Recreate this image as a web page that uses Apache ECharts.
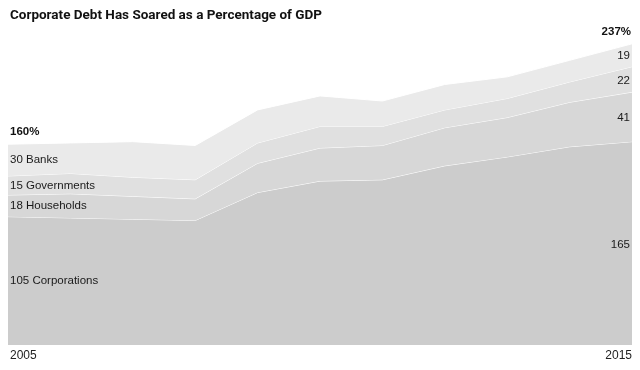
<!DOCTYPE html>
<html>
<head>
<meta charset="utf-8">
<script src="https://cdn.jsdelivr.net/npm/echarts@6/dist/echarts.min.js"></script>
<style>
  html, body { margin: 0; padding: 0; background: #fff; }
  #chart { width: 640px; height: 370px; }
</style>
</head>
<body>
<div id="chart"></div>
<script>
// debt as % of GDP
var years = ['2005','2006','2007','2008','2009','2010','2011','2012','2013','2014','2015'];
var corporations = [101, 100, 99, 98, 120, 129, 130, 141, 148, 156, 160];
var households   = [17, 19, 18, 17, 23, 26, 27, 30, 31, 35, 39];
var governments  = [15, 16, 15, 15, 16, 17, 15, 14, 15, 16, 20];
var banks        = [25, 24, 28, 27, 26, 24, 20, 20, 17, 17, 18];

var names = ['Corporations', 'Households', 'Governments', 'Banks'];
var leftLabels = [105, 18, 15, 30];
var rightLabels = [165, 41, 22, 19];
var totalLabels = ['160%', '237%'];
var colors = ['#cccccc', '#d7d7d7', '#e0e0e0', '#eaeaea'];

var chart = echarts.init(document.getElementById('chart'));
var allData = [corporations, households, governments, banks];

var series = allData.map(function (d, i) {
  return {
    name: names[i],
    type: 'line',
    stack: 'debt',
    data: d,
    symbol: 'none',
    lineStyle: { color: '#ffffff', width: 1 },
    areaStyle: { color: colors[i], opacity: 1 },
    emphasis: { disabled: true },
    z: 2 + i
  };
});

var option = {
  animation: false,
  title: {
    text: 'Corporate Debt Has Soared as a Percentage of GDP',
    left: 5,
    top: 4,
    textStyle: { fontFamily: 'Roboto', fontSize: 13.5, fontWeight: 'bold', color: '#111' }
  },
  grid: { left: 8, right: 8, top: 40, bottom: 25 },
  xAxis: {
    type: 'category',
    data: years,
    boundaryGap: false,
    axisLine: { show: false },
    axisTick: { show: false },
    axisLabel: {
      margin: 5,
      fontFamily: 'Liberation Sans',
      fontSize: 12,
      color: '#222',
      padding: [0, 0, 0, 2],
      interval: function (idx) { return idx === 0 || idx === years.length - 1; },
      alignMinLabel: 'left',
      alignMaxLabel: 'right'
    }
  },
  yAxis: { type: 'value', min: 0, max: 240, show: false },
  series: series
};
chart.setOption(option);

// labels placed at the middle of each band, first and last year
var last = years.length - 1;
var graphics = [];
var base0 = 0, baseN = 0;
allData.forEach(function (d, i) {
  var p0 = chart.convertToPixel({ gridIndex: 0 }, [0, base0 + d[0] / 2]);
  var pN = chart.convertToPixel({ gridIndex: 0 }, [last, baseN + d[last] / 2]);
  base0 += d[0];
  baseN += d[last];
  graphics.push({
    type: 'text', left: 10, top: p0[1] - 6, z: 100,
    style: { text: leftLabels[i] + ' ' + names[i], font: '11.5px "Liberation Sans"', fill: '#1a1a1a' }
  });
  graphics.push({
    type: 'text', right: 10, top: pN[1] - 5, z: 100,
    style: { text: String(rightLabels[i]), font: '11.5px "Liberation Sans"', fill: '#1a1a1a' }
  });
});
var t0 = chart.convertToPixel({ gridIndex: 0 }, [0, base0]);
var tN = chart.convertToPixel({ gridIndex: 0 }, [last, baseN]);
graphics.push({
  type: 'text', left: 10, top: t0[1] - 18, z: 100,
  style: { text: totalLabels[0], font: 'bold 11.5px "Liberation Sans"', fill: '#111' }
});
graphics.push({
  type: 'text', right: 9, top: tN[1] - 18, z: 100,
  style: { text: totalLabels[1], font: 'bold 11.5px "Liberation Sans"', fill: '#111' }
});
chart.setOption({ graphic: graphics });
</script>
</body>
</html>
